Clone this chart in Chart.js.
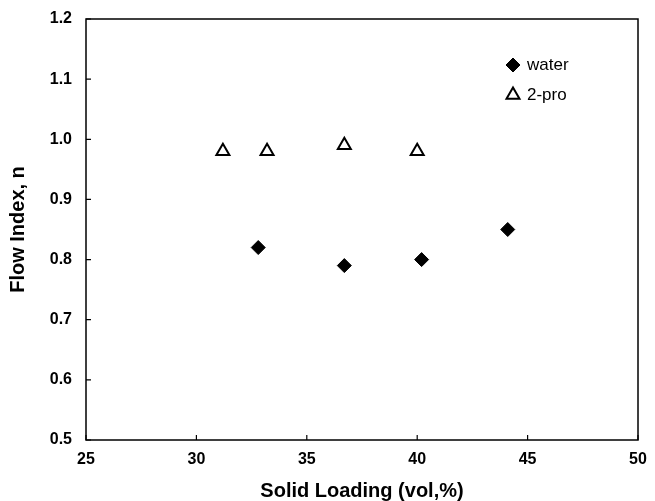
<!DOCTYPE html>
<html>
<head>
<meta charset="utf-8">
<script src="https://cdn.jsdelivr.net/npm/chart.js@4"></script>
<style>
  html, body { margin: 0; padding: 0; background: #fff; }
  #wrap { width: 655px; height: 501px; }
</style>
</head>
<body>
<div id="wrap"><canvas id="myChart" width="655" height="501"></canvas></div>
<script>
/* data */
const waterX = [32.8, 36.7, 40.2, 44.1];
const waterY = [0.82, 0.79, 0.80, 0.85];
const proX = [31.2, 33.2, 36.7, 40.0];
const proY = [0.98, 0.98, 0.99, 0.98];
const xTicks = [25, 30, 35, 40, 45, 50];
const yTicks = [0.5, 0.6, 0.7, 0.8, 0.9, 1.0, 1.1, 1.2];
const seriesNames = ['water', '2-pro'];

const toPoints = (xs, ys) => xs.map((x, i) => ({ x, y: ys[i] }));

// frame around the plot + ticks pointing inward
const framePlugin = {
  id: 'frame',
  afterDraw(chart) {
    const { ctx, chartArea: a, scales: { x, y } } = chart;
    ctx.save();
    ctx.strokeStyle = '#000';
    ctx.lineWidth = 1.5;
    ctx.strokeRect(a.left, a.top, a.right - a.left, a.bottom - a.top);
    ctx.lineWidth = 1.2;
    ctx.beginPath();
    xTicks.forEach(v => {
      const px = x.getPixelForValue(v);
      ctx.moveTo(px, a.bottom);
      ctx.lineTo(px, a.bottom - 5);
    });
    yTicks.forEach(v => {
      const py = y.getPixelForValue(v);
      ctx.moveTo(a.left, py);
      ctx.lineTo(a.left + 5, py);
    });
    ctx.stroke();
    ctx.restore();
  }
};

// small legend inside the plot, top right
const legendPlugin = {
  id: 'innerLegend',
  afterDraw(chart) {
    const { ctx, chartArea: a } = chart;
    const x0 = a.right - 125;
    let y0 = a.top + 46;
    ctx.save();
    ctx.font = '17px "Liberation Sans", Arial, sans-serif';
    ctx.textBaseline = 'middle';
    chart.data.datasets.forEach(ds => {
      ctx.fillStyle = ds.pointBackgroundColor;
      ctx.strokeStyle = ds.pointBorderColor;
      ctx.lineWidth = ds.pointBorderWidth;
      Chart.helpers.drawPoint(ctx, {
        pointStyle: ds.pointStyle,
        radius: ds.pointRadius,
        rotation: 0,
        borderWidth: ds.pointBorderWidth
      }, x0, y0);
      ctx.fillStyle = '#000';
      ctx.fillText(ds.label, x0 + 14, y0);
      y0 += 30;
    });
    ctx.restore();
  }
};

const data = {
  datasets: [
    {
      label: seriesNames[0],
      data: toPoints(waterX, waterY),
      pointStyle: 'rectRot',
      pointRadius: 7,
      pointBackgroundColor: '#000',
      pointBorderColor: '#000',
      pointBorderWidth: 1,
      showLine: false,
    },
    {
      label: seriesNames[1],
      data: toPoints(proX, proY),
      pointStyle: 'triangle',
      pointRadius: 7.5,
      pointBackgroundColor: '#fff',
      pointBorderColor: '#000',
      pointBorderWidth: 2,
      showLine: false,
    },
  ],
};

const tickFont = { family: '"Liberation Sans", Arial, sans-serif', size: 16, weight: 'bold' };
const titleFont = { family: '"Liberation Sans", Arial, sans-serif', size: 20, weight: 'bold', lineHeight: 1 };

const config = {
  type: 'scatter',
  data,
  options: {
    responsive: false,
    animation: false,
    layout: { padding: { left: 6, right: 17, top: 19, bottom: 0 } },
    plugins: {
      legend: { display: false },
      tooltip: { enabled: false },
    },
    scales: {
      x: {
        type: 'linear',
        min: 25,
        max: 50,
        afterBuildTicks: s => { s.ticks = xTicks.map(value => ({ value })); },
        afterFit: s => { s.height = 61; },
        grid: { display: false },
        border: { display: false },
        ticks: { color: '#000', font: tickFont, padding: 2, maxRotation: 0 },
        title: { display: true, text: 'Solid Loading (vol,%)', color: '#000', font: titleFont, padding: { top: 6, bottom: 0 } },
      },
      y: {
        type: 'linear',
        min: 0.5,
        max: 1.2,
        afterBuildTicks: s => { s.ticks = yTicks.map(value => ({ value })); },
        afterFit: s => { s.width = 80; },
        grid: { display: false },
        border: { display: false },
        ticks: { color: '#000', font: tickFont, padding: 6, callback: v => v.toFixed(1) },
        title: { display: true, text: 'Flow Index, n', color: '#000', font: titleFont, padding: { top: 2, bottom: 10 } },
      },
    },
  },
  plugins: [framePlugin, legendPlugin],
};

new Chart(document.getElementById('myChart').getContext('2d'), config);
</script>
</body>
</html>
